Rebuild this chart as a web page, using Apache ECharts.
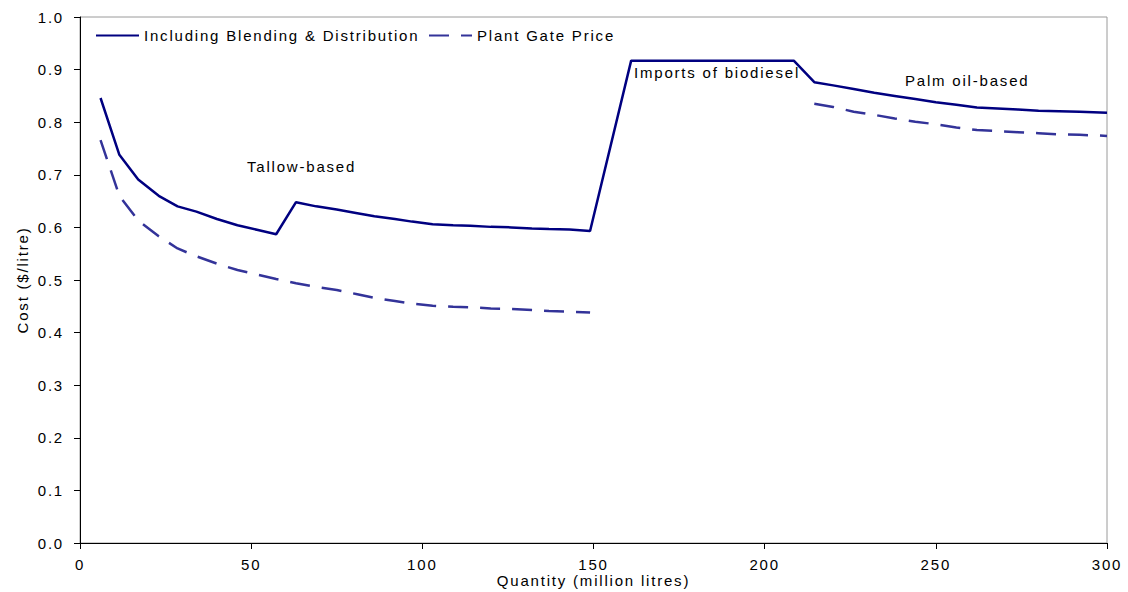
<!DOCTYPE html>
<html>
<head>
<meta charset="utf-8">
<script src="https://cdn.jsdelivr.net/npm/echarts@6/dist/echarts.min.js"></script>
<style>
  html, body { margin: 0; padding: 0; background: #fff; }
  #chart { width: 1128px; height: 592px; }
  /* widely tracked lettering throughout the chart */
  #chart text { letter-spacing: 1.8px; }
</style>
</head>
<body>
<div id="chart"></div>
<script>
// Supply quantity (million litres) along the cost curve
const quantity = [6, 11.5, 17, 23, 28.5, 34, 40, 46, 52, 57.3, 63.1, 69, 75, 81, 86, 92, 97, 103,
  109, 114, 120, 126, 132, 137, 143, 149, 161, 208.5, 214.5, 220, 226, 232, 238, 244, 250,
  256, 262, 268, 274, 280, 286, 292, 300];

// Cost including blending & distribution ($/litre)
const blendedCost = [0.846, 0.738, 0.691, 0.660, 0.640, 0.630, 0.616, 0.604, 0.595, 0.587, 0.648,
  0.640, 0.634, 0.627, 0.621, 0.616, 0.611, 0.606, 0.604, 0.603, 0.601, 0.600, 0.598, 0.597,
  0.596, 0.593, 0.917, 0.917, 0.876, 0.870, 0.863, 0.856, 0.850, 0.844, 0.838, 0.833, 0.828,
  0.826, 0.824, 0.822, 0.821, 0.820, 0.818];

// Plant gate price ($/litre); no value for the imports segment
const plantGate = [0.766, 0.660, 0.613, 0.583, 0.560, 0.545, 0.531, 0.519, 0.510, 0.502, 0.494,
  0.487, 0.481, 0.473, 0.466, 0.460, 0.455, 0.451, 0.449, 0.448, 0.446, 0.445, 0.443, 0.441,
  0.440, 0.438, null, null, 0.835, 0.829, 0.820, 0.814, 0.807, 0.801, 0.796, 0.790, 0.785,
  0.783, 0.781, 0.779, 0.777, 0.776, 0.774];

const seriesNames = ['Including Blending & Distribution', 'Plant Gate Price'];
const segmentLabels = ['Tallow-based', 'Imports of biodiesel', 'Palm oil-based'];

const FONT = '"Liberation Sans", Arial, sans-serif';
const pair = (ys) => quantity.map((q, i) => [q, ys[i]]);

const legendBase = {
  top: 23, itemWidth: 43, itemHeight: 14, itemGap: 12,
  itemStyle: { opacity: 0 },
  textStyle: { fontFamily: FONT, fontSize: 15, color: '#000' }
};

const chart = echarts.init(document.getElementById('chart'), null, { renderer: 'svg' });
chart.setOption({
  animation: false,
  backgroundColor: '#fff',
  grid: {
    left: 80, right: 21, top: 17, bottom: 49, outerBoundsMode: 'none', containLabel: false,
    show: true, borderColor: '#9a9a9a', borderWidth: 1
  },
  legend: [
    Object.assign({ left: 90, data: [seriesNames[0]] }, legendBase),
    Object.assign({ left: 423, data: [seriesNames[1]] }, legendBase)
  ],
  xAxis: {
    type: 'value', min: 0, max: 300, interval: 50,
    name: 'Quantity (million litres)', nameLocation: 'middle', nameGap: 30, nameMoveOverlap: false,
    nameTextStyle: { fontFamily: FONT, fontSize: 15, color: '#000' },
    axisLine: { lineStyle: { color: '#000', width: 1 } },
    axisTick: { length: 6, lineStyle: { color: '#000' } },
    axisLabel: { fontFamily: FONT, fontSize: 15, color: '#000', margin: 14 },
    splitLine: { show: false }
  },
  yAxis: {
    type: 'value', min: 0, max: 1, interval: 0.1,
    name: 'Cost ($/litre)', nameLocation: 'middle', nameGap: 50, nameRotate: 90, nameMoveOverlap: false,
    nameTextStyle: { fontFamily: FONT, fontSize: 15, color: '#000' },
    axisLine: { show: true, lineStyle: { color: '#000', width: 1 } },
    axisTick: { show: true, length: 6, lineStyle: { color: '#000' } },
    axisLabel: { fontFamily: FONT, fontSize: 15, color: '#000', margin: 16, formatter: v => v.toFixed(1) },
    splitLine: { show: false }
  },
  series: [
    {
      name: seriesNames[0], type: 'line', data: pair(blendedCost),
      symbol: 'none', color: '#000080',
      lineStyle: { color: '#000080', width: 2.5 }
    },
    {
      name: seriesNames[1], type: 'line', data: pair(plantGate),
      symbol: 'none', connectNulls: false, color: '#333399',
      lineStyle: { color: '#333399', width: 2.5, type: [20, 12] }
    }
  ],
  graphic: [
    { type: 'text', left: 247, top: 159, style: { text: segmentLabels[0], font: '15px ' + FONT, fill: '#000' } },
    { type: 'text', left: 634, top: 65, style: { text: segmentLabels[1], font: '15px ' + FONT, fill: '#000' } },
    { type: 'text', left: 905, top: 73, style: { text: segmentLabels[2], font: '15px ' + FONT, fill: '#000' } }
  ]
});
</script>
</body>
</html>
